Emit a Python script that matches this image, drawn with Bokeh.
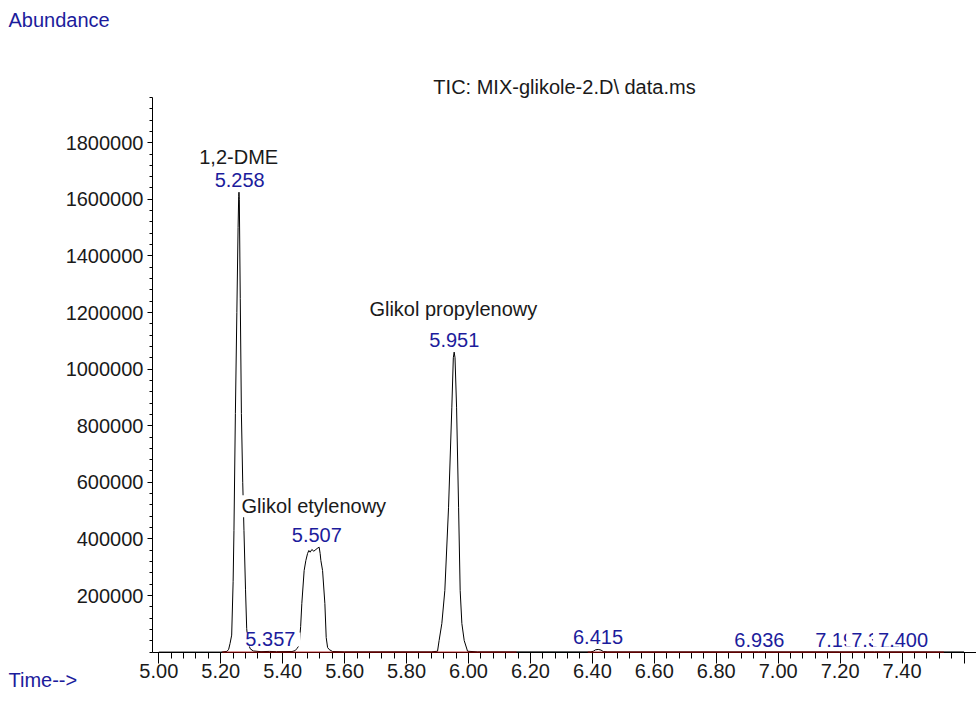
from bokeh.plotting import figure
from bokeh.models import Range1d, FixedTicker, CustomJSTickFormatter, NumeralTickFormatter, Label
from bokeh.embed import file_html
from bokeh.resources import INLINE

# ---- data ----
time = [5.000, 5.200, 5.2200, 5.2256, 5.2300, 5.2353, 5.2400, 5.2427, 5.2473, 5.2520,
        5.2560, 5.2580, 5.2589, 5.2600, 5.2630, 5.2667, 5.2710, 5.2750, 5.2800, 5.2838,
        5.2880, 5.2950, 5.3050, 5.3300, 5.3570, 5.3800, 5.4300, 5.4400, 5.4456, 5.4531,
        5.4580, 5.4618, 5.4693, 5.4748, 5.4803, 5.4845, 5.4887, 5.4942, 5.5006, 5.5071,
        5.5136, 5.5178, 5.5210, 5.5233, 5.5288, 5.5362, 5.5405, 5.5450, 5.5502, 5.5612,
        5.6000, 5.8800, 5.9000, 5.9051, 5.9139, 5.9236, 5.9356, 5.9462, 5.9510, 5.9537,
        5.9565, 5.9615, 5.9680, 5.9731, 5.9786, 5.9861, 5.9970, 6.0300, 6.3950, 6.4030,
        6.4100, 6.4190, 6.4280, 6.4350, 6.4500, 6.9360, 7.1970, 7.3110, 7.4000, 7.6000]
abundance = [0, 0, 2500, 10000, 30000, 60000, 250000, 430000, 843000, 1200000,
             1500000, 1610000, 1625000, 1600000, 1250000, 843000, 600000, 430000, 220000, 83000,
             35000, 12000, 4000, 1500, 2500, 1500, 2000, 5000, 12000, 23300,
             90000, 171700, 288300, 323700, 348400, 359000, 353000, 362500, 356500, 362500,
             368000, 370700, 348400, 323700, 288300, 171700, 51600, 16300, 9000, 2000,
             800, 800, 3000, 41000, 101000, 217700, 512000, 865400, 1040000, 1060000,
             1040000, 865400, 512000, 217700, 101000, 41000, 3000, 800, 800, 3000,
             8000, 9500, 7000, 2000, 800, 900, 900, 900, 900, 600]

peak_rt = [5.258, 5.357, 5.507, 5.951, 6.415, 6.936, 7.197, 7.311, 7.400]
compound_rt = [5.258, 5.507, 5.951]
compound_name = ["1,2-DME", "Glikol etylenowy", "Glikol propylenowy"]
baseline_start = [5.205, 6.385]
baseline_end = [6.155, 7.535]

x_major = [5.00, 5.20, 5.40, 5.60, 5.80, 6.00, 6.20, 6.40, 6.60, 6.80, 7.00, 7.20, 7.40, 7.60]
y_major = [200000, 400000, 600000, 800000, 1000000, 1200000, 1400000, 1600000, 1800000]

title_text = "TIC: MIX-glikole-2.D\\ data.ms"
y_title = "Abundance"
x_title = "Time-->"

# ---- styles / geometry ----
FONT = "Liberation Sans"
FS = "20px"
BLUE = "#1c1c9c"
INK = "#1a1a1a"
W, H = 976, 713
PX_PER_MIN = 309.7          # px per minute
X_AT_500 = 158.3            # px position of 5.00
PX_PER_UNIT = 56.6 / 200000  # px per abundance unit
Y_ZERO_PX = 651.6
AX_X0, AX_X1 = 5 + (152 - X_AT_500) / PX_PER_MIN, 5 + (W - X_AT_500) / PX_PER_MIN
AX_Y0, AX_Y1 = 0, 1961000
X0 = 5 - X_AT_500 / PX_PER_MIN
X1 = X0 + W / PX_PER_MIN
Y0 = -(H - Y_ZERO_PX) / PX_PER_UNIT
Y1 = Y0 + H / PX_PER_UNIT

p = figure(width=W, height=H, x_range=Range1d(X0, X1), y_range=Range1d(Y0, Y1),
           output_backend="svg", toolbar_location=None,
           min_border_left=0, min_border_right=0, min_border_top=0, min_border_bottom=0)
p.outline_line_color = None
p.background_fill_color = "white"
p.border_fill_color = "white"
p.xgrid.visible = False
p.ygrid.visible = False

x_minor = [round(5.0 + 0.04 * i, 2) for i in range(67)]
y_minor = list(range(0, 1960001, 40000))
p.xaxis.ticker = FixedTicker(ticks=x_major, minor_ticks=x_minor)
p.yaxis.ticker = FixedTicker(ticks=y_major, minor_ticks=y_minor)
p.xaxis.formatter = CustomJSTickFormatter(code="return tick > 7.5 ? '' : tick.toFixed(2);")
p.yaxis.formatter = NumeralTickFormatter(format="0")
p.xaxis.fixed_location = 0
p.yaxis.fixed_location = AX_X0
p.xaxis.bounds = (AX_X0, AX_X1)
p.yaxis.bounds = (AX_Y0, AX_Y1)

for ax in (p.xaxis, p.yaxis):
    ax.axis_line_color = "black"
    ax.major_tick_line_color = "black"
    ax.minor_tick_line_color = "black"
    ax.major_tick_in = 0
    ax.minor_tick_in = 0
    ax.major_label_text_font = FONT
    ax.major_label_text_font_size = FS
    ax.major_label_text_color = INK
p.xaxis.major_tick_out = 11
p.xaxis.minor_tick_out = 6
p.xaxis.major_label_standoff = 1
p.yaxis.major_tick_out = 5
p.yaxis.minor_tick_out = 3
p.yaxis.major_label_standoff = 4

# trace
p.line(time, abundance, line_color="black", line_width=1)
# integration baseline (drawn above the axis line)
p.segment(x0=baseline_start, y0=[0] * len(baseline_start), x1=baseline_end,
          y1=[0] * len(baseline_end), line_color="#9a0000", line_width=1, level="annotation")


def local_max(rt):
    return max(a for t, a in zip(time, abundance) if abs(t - rt) <= 0.02)


# compound names
name_dx = [0, -2, 0]
name_dy = [35, 41, 43]
for rt, name, dx, dy in zip(compound_rt, compound_name, name_dx, name_dy):
    p.add_layout(Label(x=rt, y=local_max(rt), x_offset=dx, y_offset=dy, text=name,
                       text_align="center", text_baseline="alphabetic",
                       text_font=FONT, text_font_size=FS, text_color=INK,
                       background_fill_color="white", background_fill_alpha=1.0))

# retention-time labels
for rt in peak_rt:
    p.add_layout(Label(x=rt, y=local_max(rt), x_offset=1, y_offset=12, text=f"{rt:.3f}",
                       text_align="center", text_baseline="alphabetic",
                       text_font=FONT, text_font_size=FS, text_color=BLUE,
                       padding={"left": 5, "right": 5, "top": 0, "bottom": 0},
                       background_fill_color="white", background_fill_alpha=1.0))

# titles
p.add_layout(Label(x=(AX_X0 + AX_X1) / 2, y=AX_Y1, y_offset=10, text=title_text, text_align="center",
                   text_baseline="middle", text_font=FONT, text_font_size=FS, text_color=INK))
p.add_layout(Label(x=X0, y=AX_Y1, x_offset=8, y_offset=77, text=y_title, text_align="left",
                   text_baseline="middle", text_font=FONT, text_font_size=FS, text_color=BLUE))
p.add_layout(Label(x=X0, y=0, x_offset=8, y_offset=-28, text=x_title, text_align="left",
                   text_baseline="middle", text_font=FONT, text_font_size=FS, text_color=BLUE))

open("out.html", "w").write(file_html(p, INLINE))
